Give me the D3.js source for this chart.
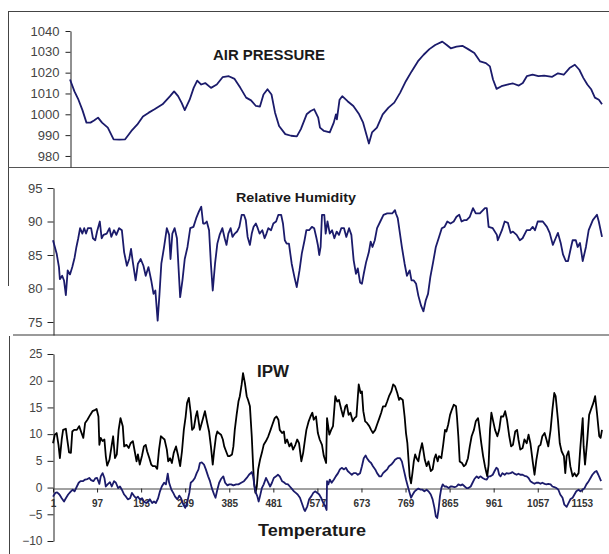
<!DOCTYPE html>
<html>
<head>
<meta charset="utf-8">
<script src="https://cdn.jsdelivr.net/npm/d3@7"></script>
<style>
  body { margin: 0; background: #fff; }
  text { font-family: "Liberation Sans", Arial, sans-serif; }
</style>
</head>
<body>
<script>
// data: [sample index, value]
const pressure = [[1,1016.7],[11,1011],[20,1007],[29,1002],[38,996],[47,996],[55,997],[64,998.4],[73,996],[86,993.6],[99,988],[112,987.8],[125,988],[139,992],[152,995],[165,999],[178,1000.8],[191,1002.4],[209,1004.8],[226,1008.7],[235,1011],[244,1008.7],[252,1005.5],[259,1002],[270,1007],[279,1012.7],[287,1016.2],[296,1014.3],[305,1015],[318,1012.7],[331,1014.3],[344,1017.8],[358,1018.3],[371,1017],[384,1012.7],[397,1008],[408,1006.7],[419,1004],[428,1003.7],[436,1009.5],[445,1012],[454,1009.5],[462,1000.8],[471,994.4],[485,990.5],[498,989.7],[511,989.4],[520,992.9],[533,1000],[542,1001.6],[550,1002.4],[559,998.4],[563,993.6],[572,992],[585,991.3],[594,996],[599,1000],[601,997.6],[607,1007],[613,1008.7],[625,1006.3],[638,1004],[651,1000],[660,996],[667,990.5],[673,986],[680,991.3],[691,993.6],[704,1000],[717,1003.2],[730,1005.6],[743,1010.3],[756,1015.9],[769,1020.6],[783,1025.4],[796,1028.6],[809,1031.3],[822,1033.3],[838,1034.9],[848,1033.3],[857,1031.7],[870,1032.5],[883,1032.9],[896,1031.3],[910,1029.4],[923,1025.4],[936,1024.6],[945,1023],[952,1016.7],[960,1012.2],[971,1013.5],[984,1014.3],[997,1014.8],[1010,1013.8],[1019,1015],[1028,1018.3],[1041,1019],[1054,1018.3],[1067,1018.6],[1085,1018],[1098,1019.7],[1111,1019],[1124,1022.2],[1136,1023.8],[1146,1021.4],[1155,1017.5],[1164,1014.3],[1173,1011.9],[1181,1008],[1190,1007],[1197,1004.8]]

const humidity = [[1,87.2],[9,85.2],[14,83.2],[16,81.4],[21,81.9],[25,81.2],[29,79],[33,82.7],[38,82.1],[43,83.2],[48,84.6],[52,86.2],[56,87.5],[60,89],[65,88.2],[69,89],[73,88.2],[77,89],[84,89],[88,87.5],[93,87.2],[97,88.5],[103,90],[107,87.5],[111,88],[118,88.2],[124,89],[128,87.7],[134,88.7],[139,88],[145,89],[151,88.7],[156,85.4],[162,83.4],[167,84.4],[171,85.9],[175,83.9],[181,81.2],[186,83.7],[192,84.4],[198,83.4],[203,81.9],[209,83.2],[215,81.2],[220,79.2],[224,79.7],[229,75.2],[233,79.2],[237,83.7],[243,86.2],[249,89],[254,88],[257,84.4],[261,88.2],[266,89],[271,87.5],[278,78.7],[283,81.2],[288,84.4],[294,86.2],[300,89],[307,89.2],[313,90.5],[319,91.5],[324,92.2],[328,89.7],[332,89.7],[336,90],[341,88.7],[345,83.7],[349,79.7],[354,83.7],[359,86.7],[364,88],[370,89],[375,87.5],[379,86.5],[383,88.2],[388,89],[392,87.7],[397,88.2],[402,88.5],[407,89.2],[412,91],[417,91],[421,90.2],[425,87.7],[430,86.5],[434,88.2],[438,89.2],[443,89.7],[447,89],[451,88.2],[457,88.7],[462,87.5],[466,88.2],[470,89],[476,88.7],[481,89.7],[487,90],[492,91],[498,91],[502,89.7],[506,87.2],[510,86.7],[515,86.7],[521,83.7],[527,81.7],[532,80.2],[538,82.7],[543,85.2],[549,87.2],[553,88.7],[559,88.7],[565,89.2],[570,89],[575,87.5],[578,86.5],[581,85],[584,86.2],[587,91],[592,91],[595,88.2],[599,90],[604,88.2],[609,88.7],[614,87.5],[619,88.5],[624,88],[629,89],[635,89],[640,87.7],[646,89],[651,88],[656,84.2],[661,82.2],[665,83],[670,80.9],[674,80.7],[678,82.2],[683,83.9],[689,85.4],[693,87],[697,86.2],[702,87.2],[707,89],[714,90],[721,91],[729,91.2],[740,91.2],[746,91.7],[748,91.2],[752,90.5],[761,86.2],[767,83.7],[772,81.9],[778,82.7],[782,81.2],[787,81.2],[792,80.7],[797,78.9],[803,77.4],[808,76.6],[813,78.2],[818,79.2],[823,81.7],[829,83.9],[835,86.2],[842,87.7],[848,89],[854,89.2],[860,90],[867,89.7],[874,90],[880,90.7],[886,91],[891,90],[897,90.2],[902,90.2],[909,90.7],[916,92],[922,91.2],[931,91.2],[942,92],[946,92],[950,89.2],[959,89],[968,88],[970,87.2],[979,88.7],[985,90],[992,89.8],[998,88.3],[1003,88.5],[1011,88],[1018,87.2],[1024,87.5],[1033,88.7],[1040,88.7],[1046,89.2],[1051,88.7],[1057,90],[1068,90],[1077,89.2],[1083,88.3],[1090,86.5],[1096,87.5],[1101,88.3],[1107,86.8],[1112,85.1],[1118,84.1],[1123,84.1],[1129,86],[1133,87.2],[1140,87.2],[1144,86.2],[1149,86.8],[1155,84.1],[1162,86.2],[1168,88.7],[1177,90.2],[1186,91],[1190,90],[1194,88.7],[1197,87.7]]

const ipw = [[1,8.3],[5,9.9],[9,10.2],[13,8],[16,5.5],[20,9],[23,10.8],[29,11],[32,9],[36,6.6],[40,6.5],[43,10.5],[47,10.8],[53,10.8],[58,11.5],[62,10.5],[67,9.3],[71,12.1],[76,12.7],[82,13.6],[87,14.3],[92,14.5],[96,14.7],[100,13.3],[102,8],[105,9.3],[109,8.7],[113,9],[116,5.9],[119,4.1],[124,5.2],[129,8],[132,9.6],[136,5.5],[140,6.2],[144,10.8],[148,13],[153,11.5],[156,7.7],[161,8],[166,7.4],[170,8.3],[175,8.7],[179,6.8],[183,4.9],[186,6.2],[190,4.3],[195,6],[199,7.7],[203,8],[206,6.8],[211,5.5],[215,4.3],[219,4],[224,4],[228,3.5],[232,7.1],[236,9.6],[240,9.3],[244,9],[249,7.1],[252,4.9],[256,5.5],[260,4.6],[264,6.5],[269,7.7],[273,6.2],[278,4],[282,6.8],[286,10.8],[290,13.3],[293,15.8],[297,16.8],[301,14],[304,10.8],[308,11.2],[312,13.3],[315,14.3],[321,10.8],[327,12.7],[332,14.3],[337,12.1],[341,10.5],[345,7.7],[349,4.3],[352,6.8],[356,9.6],[359,10.5],[362,10.2],[367,9.9],[371,9],[374,7.7],[378,6.8],[382,5.9],[386,5.9],[391,6.2],[394,7.7],[397,10.8],[401,13.6],[405,16.1],[408,17.1],[412,19.3],[415,21.4],[419,19.6],[423,17.1],[426,16.4],[430,15.2],[434,9.6],[437,4],[439,0.9],[442,-1],[445,0.2],[448,3.4],[452,5.2],[456,6.5],[460,8],[465,8.7],[470,9.6],[475,10.8],[479,11.8],[484,13],[488,13.3],[492,12.7],[495,10.8],[500,10.2],[504,10.5],[507,8.3],[511,9],[516,7.7],[520,8.3],[524,7.1],[529,8],[533,9],[537,8.3],[542,4.9],[546,6.5],[550,9],[553,10.8],[558,12.4],[562,13.3],[566,14],[569,12.7],[574,13.3],[578,10.2],[582,9],[587,8],[591,5.9],[596,4.6],[598,13],[603,9.9],[607,10.8],[611,11.5],[616,17.1],[620,16.1],[624,16.4],[629,14.6],[633,13.3],[638,15.2],[641,15.5],[645,13.6],[649,14],[654,12.4],[658,13],[662,13.3],[667,19.3],[671,17.7],[674,18],[677,14.3],[681,12.4],[685,12.1],[690,11.5],[694,10.8],[698,10.2],[703,10.8],[707,11.8],[712,13],[716,14],[720,15.2],[725,15.2],[729,16.1],[733,17.1],[738,18],[742,19.3],[746,19],[751,17.7],[755,16.4],[757,16.8],[763,16.4],[767,13.3],[770,10.2],[773,8.3],[776,4.6],[778,2.1],[781,0.8],[784,2.7],[787,4.9],[790,6.2],[793,5.5],[797,4.9],[800,6.5],[805,8.3],[807,7.4],[811,5.2],[815,4],[819,4.9],[824,3.1],[828,3.4],[832,5.5],[835,6.2],[839,4.9],[842,5.9],[847,5.5],[851,8],[855,10.8],[858,10.5],[862,11.8],[866,13.6],[870,14.6],[874,15.5],[879,15.2],[881,13.3],[884,9.6],[887,4.9],[892,4.6],[896,4],[900,4.3],[905,5.5],[909,7.7],[913,9.6],[918,10.8],[922,12.4],[927,13],[929,11.8],[934,8.3],[938,5.9],[942,4],[947,2.1],[950,4.3],[953,10.8],[956,14],[960,12.4],[964,10.8],[969,9.6],[973,10.8],[977,13.3],[982,13.3],[986,14.3],[990,12.7],[995,9.6],[999,7.7],[1003,8],[1008,10.5],[1012,10.8],[1015,9],[1019,7.1],[1024,7.4],[1028,9],[1033,8.3],[1037,9.9],[1041,8.3],[1046,4.9],[1050,2.4],[1054,5.2],[1059,7.7],[1063,8],[1067,9.6],[1072,10.2],[1076,9],[1080,7.7],[1085,10.8],[1089,14.6],[1093,17.7],[1096,17.1],[1101,12.7],[1105,8.3],[1109,6.8],[1114,5.9],[1117,2.7],[1120,5.9],[1124,6.8],[1128,4],[1133,2.1],[1137,2.7],[1141,2.1],[1146,2.7],[1150,7.7],[1155,13],[1157,7.7],[1160,4.3],[1165,9],[1169,13.6],[1173,14.6],[1178,15.8],[1182,17.1],[1186,14],[1191,9.6],[1194,9.3],[1197,10.8]]

const temperature = [[1,-1.7],[6,-1],[10,-0.9],[15,-1.3],[20,-2],[25,-2.6],[29,-2],[34,-1.3],[40,-0.7],[44,-0.4],[48,-0.7],[53,0.2],[57,0.9],[61,1.2],[66,1.2],[71,1.5],[76,1.6],[80,1.8],[84,1.4],[89,1.2],[93,1.7],[97,1.8],[102,0.7],[105,2.1],[109,2.7],[113,1.8],[116,0.2],[121,0.7],[125,1],[129,0.2],[134,1.2],[138,0.9],[143,-0.1],[147,0.2],[151,-0.4],[156,-1.3],[160,-1.7],[164,-2.2],[169,-2],[173,-1],[177,-1.5],[182,-2],[186,-1.7],[190,-2.2],[195,-2],[199,-2.6],[204,-2.9],[208,-2.6],[212,-2.2],[217,-2.9],[221,-2.6],[225,-2.9],[230,-2],[234,-0.7],[238,0.2],[243,0.9],[247,0.6],[251,2.6],[254,0.9],[259,-0.4],[263,-1],[267,-1.7],[272,-2.2],[276,-1.5],[280,-2],[285,-3.2],[289,-3.8],[293,-2.9],[298,-1],[301,0.9],[305,1.2],[310,1.8],[314,2.7],[318,3.4],[321,4.6],[325,4.7],[330,4.3],[334,3.4],[339,2.1],[343,1.2],[347,-0.1],[352,-1.3],[355,-1.9],[359,-0.4],[363,0.9],[367,1.6],[372,2.1],[376,0.9],[381,0.4],[385,0.6],[389,0.6],[394,0.4],[400,0.6],[405,0.6],[411,0.9],[417,1.2],[423,1.8],[428,2.4],[434,2.9],[437,2.1],[440,0.2],[443,-1],[446,-1.6],[449,-2.6],[452,-1.6],[456,-0.1],[460,0.6],[465,1.8],[469,1.1],[474,0.2],[478,0.9],[482,1.8],[487,2.1],[491,2.4],[495,2.1],[500,1.2],[504,1],[508,0.7],[513,0.6],[517,0.2],[521,-0.2],[526,-0.7],[530,-1],[534,-1.3],[539,-1.9],[543,-2.9],[548,-4.1],[550,-4.4],[555,-3.5],[559,-2.2],[564,-1.6],[568,-1],[572,-0.7],[577,-1],[581,-1.3],[585,-1.9],[590,-2.9],[594,-3.5],[597,-4.2],[598,1.2],[601,0.6],[604,1.5],[608,0.9],[613,1.5],[617,2.1],[622,2.7],[626,3.4],[630,3.7],[635,3.4],[639,3.7],[643,3.1],[648,2.7],[652,2.4],[656,2.7],[661,2.7],[665,2.4],[670,2.7],[674,4],[678,5.5],[682,6],[685,5.5],[690,4.9],[694,4.6],[698,4],[703,3.4],[707,2.7],[712,2.1],[716,2.1],[720,2.7],[725,3.1],[729,3.4],[733,4],[738,4.3],[742,4.7],[746,5.2],[751,5.5],[755,5.5],[757,5.5],[761,4.9],[765,3.4],[770,1.5],[774,0.2],[778,-1],[781,-1.9],[784,-1.4],[789,-0.7],[793,-0.4],[797,-0.2],[802,-0.4],[806,-0.4],[810,-0.7],[815,-0.4],[819,-0.7],[824,-1.3],[828,-2.2],[832,-3.8],[835,-5.4],[838,-5.7],[841,-4.1],[844,-1.6],[847,-0.1],[850,0.6],[854,0.2],[858,0.2],[863,-0.1],[867,0.2],[871,0.2],[876,0.1],[880,0.2],[884,0.6],[889,0.4],[893,0.6],[898,0.2],[902,-0.1],[906,-0.1],[911,0.2],[915,0.9],[919,1.6],[924,2.1],[928,1.8],[932,2.1],[937,1.8],[941,1.6],[946,1.5],[950,2.1],[954,2.1],[959,2.4],[963,3.1],[967,3.7],[970,3.5],[973,2.4],[976,2.1],[980,2.7],[985,2.4],[989,2.7],[993,2.6],[998,2.7],[1002,2.9],[1006,2.6],[1011,2.4],[1015,2.6],[1019,2.4],[1024,2.4],[1028,2.2],[1033,2.1],[1037,1.8],[1041,1.2],[1046,0.9],[1050,0.7],[1054,0.9],[1059,0.9],[1063,0.7],[1067,0.9],[1072,0.7],[1076,0.6],[1080,0.7],[1085,0.6],[1089,0.2],[1093,0.1],[1098,-0.1],[1102,-0.4],[1106,-1.3],[1111,-1.9],[1115,-3.2],[1120,-3.6],[1124,-2.9],[1128,-2.2],[1133,-1.9],[1137,-1.3],[1141,-0.7],[1146,-0.4],[1150,-0.7],[1155,-0.4],[1159,-0.1],[1163,0.6],[1168,1.2],[1172,1.8],[1176,2.4],[1181,2.9],[1185,3.1],[1189,2.4],[1192,1.8],[1195,1.2]]

const pressureTicks = [980, 990, 1000, 1010, 1020, 1030, 1040]
const humidityTicks = [75, 80, 85, 90, 95]
const ipwTicks = [-10, -5, 0, 5, 10, 15, 20, 25]
const sampleTicks = [1, 97, 193, 289, 385, 481, 577, 673, 769, 865, 961, 1057, 1153]

let w = 609, h = 554
let navy = "#1b1b6b"

let svg = d3.select("body").append("svg")
    .attr("width", w)
    .attr("height", h)
    .style("display", "block")

svg.append("rect").attr("width", w).attr("height", h).attr("fill", "#fff")

// panel frames
svg.append("line").attr("x1", 8).attr("x2", w).attr("y1", 11.5).attr("y2", 11.5).attr("stroke", "#444")
svg.append("line").attr("x1", 8.5).attr("x2", 8.5).attr("y1", 11).attr("y2", 286).attr("stroke", "#444")
svg.append("line").attr("x1", 8).attr("x2", w).attr("y1", 167.5).attr("y2", 167.5).attr("stroke", "#555")
svg.append("line").attr("x1", 13).attr("x2", w).attr("y1", 335).attr("y2", 335).attr("stroke", "#9a9a9a").attr("stroke-width", 2)
svg.append("line").attr("x1", 9.5).attr("x2", 9.5).attr("y1", 336).attr("y2", h).attr("stroke", "#444")

// scales
let x1 = d3.scaleLinear().domain([1, 1197]).range([70, 602])
let x2 = d3.scaleLinear().domain([1, 1197]).range([53, 602])
let y1 = d3.scaleLinear().domain([974.7, 1040]).range([167, 31])
let y2 = d3.scaleLinear().domain([73.06, 95]).range([335, 188])
let y3 = d3.scaleLinear().domain([-10, 25]).range([541, 354])

let styleAxis = (g, color, size) => {
    g.selectAll("path, line").attr("stroke", "#222")
    g.selectAll("text")
        .attr("fill", color)
        .style("font-size", size + "px")
        .style("font-family", "Liberation Sans, Arial, sans-serif")
}

svg.append("g")
    .attr("transform", "translate(70.5,0)")
    .call(d3.axisLeft(y1).tickValues(pressureTicks).tickSize(5).tickSizeOuter(0).tickPadding(6).tickFormat(d3.format("d")))
    .call(g => styleAxis(g, "#444", 13))

svg.append("g")
    .attr("transform", "translate(53.5,0)")
    .call(d3.axisLeft(y2).tickValues(humidityTicks).tickSize(6).tickSizeOuter(0).tickPadding(5))
    .call(g => styleAxis(g, "#444", 13))

svg.append("g")
    .attr("transform", "translate(53.5,0)")
    .call(d3.axisLeft(y3).tickValues(ipwTicks).tickSize(6).tickSizeOuter(0).tickPadding(5))
    .call(g => styleAxis(g, "#444", 12))

// category axis on the zero line
let xAxis = svg.append("g")
    .attr("transform", "translate(0," + (Math.round(y3(0)) + 0.5) + ")")
    .call(d3.axisBottom(x2).tickValues(sampleTicks).tickSize(4).tickSizeOuter(0).tickPadding(7).tickFormat(d3.format("d")))
    .call(g => styleAxis(g, "#333", 10))
xAxis.selectAll("path").attr("stroke", "#444")
xAxis.selectAll("text").style("font-weight", "bold")

// titles, stretched to the widths seen in the picture
let title = (x, y, s, size, len) => svg.append("text")
    .attr("x", x).attr("y", y)
    .attr("text-anchor", "middle")
    .attr("textLength", len)
    .attr("lengthAdjust", "spacingAndGlyphs")
    .style("font-size", size + "px")
    .style("font-weight", "bold")
    .attr("fill", "#1a1a1a")
    .text(s)

title(269, 60, "AIR PRESSURE", 14, 112)
title(296, 202, "Relative Humidity", 12, 120)
title(273, 377, "IPW", 16, 32)
title(312, 536, "Temperature", 17, 108)

// lines
let line1 = d3.line().x(d => x1(d[0])).y(d => y1(d[1]))
let line2 = d3.line().x(d => x2(d[0])).y(d => y2(d[1]))
let line3 = d3.line().x(d => x2(d[0])).y(d => y3(d[1]))

let draw = (data, line, color) => svg.append("path").datum(data).attr("d", line)
    .attr("fill", "none").attr("stroke", color).attr("stroke-width", 1.8).attr("stroke-linejoin", "round")

draw(pressure, line1, navy)
draw(humidity, line2, navy)
draw(ipw, line3, "#000")
draw(temperature, line3, navy)
</script>
</body>
</html>
